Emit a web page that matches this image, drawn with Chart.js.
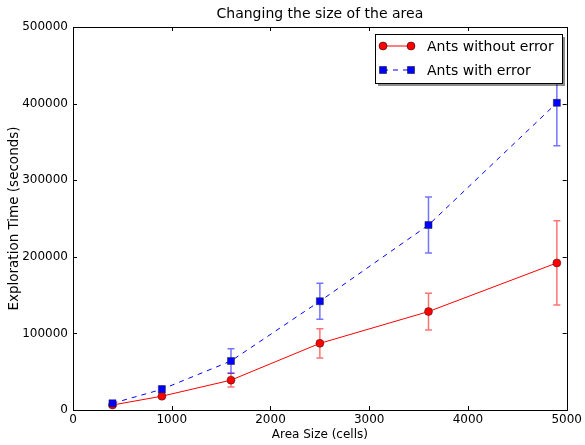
<!DOCTYPE html>
<html>
<head>
<meta charset="utf-8">
<script src="https://cdn.jsdelivr.net/npm/chart.js@4/dist/chart.umd.min.js"></script>
<style>
  html, body { margin: 0; padding: 0; background: #fff; }
  #wrap { width: 585px; height: 445px; }
</style>
</head>
<body>
<div id="wrap"><canvas id="chart" width="585" height="445"></canvas></div>
<script>
// Data
const areaSizes = [400, 900, 1600, 2500, 3600, 4900];
const timeNoError = [6500, 18000, 39000, 87000, 128500, 192000];
const errNoError = [1000, 2000, 9000, 19000, 24000, 55000];
const timeWithError = [8700, 27000, 64000, 142000, 241500, 401000];
const errWithError = [1500, 4500, 16000, 23500, 36500, 56000];
const xTicks = [0, 1000, 2000, 3000, 4000, 5000];
const yTicks = [0, 100000, 200000, 300000, 400000, 500000];

const FONT = 'DejaVu Sans';

function points(ys) {
    return areaSizes.map((x, i) => ({ x: x, y: ys[i] }));
}

// error bars go under the markers
const errorBars = {
    id: 'errorBars',
    beforeDatasetsDraw(chart) {
        const { ctx, scales: { x, y } } = chart;
        const sets = [
            { vals: timeNoError, errs: errNoError, color: 'rgba(255,0,0,0.55)' },
            { vals: timeWithError, errs: errWithError, color: 'rgba(0,0,255,0.55)' }
        ];
        ctx.save();
        ctx.lineWidth = 1.5;
        sets.forEach(s => {
            ctx.strokeStyle = s.color;
            areaSizes.forEach((a, i) => {
                const px = x.getPixelForValue(a);
                const top = y.getPixelForValue(s.vals[i] + s.errs[i]);
                const bot = y.getPixelForValue(s.vals[i] - s.errs[i]);
                ctx.beginPath();
                ctx.moveTo(px, top); ctx.lineTo(px, bot);
                ctx.moveTo(px - 3.5, top); ctx.lineTo(px + 3.5, top);
                ctx.moveTo(px - 3.5, bot); ctx.lineTo(px + 3.5, bot);
                ctx.stroke();
            });
        });
        ctx.restore();
    }
};

// matplotlib style frame, inward ticks, title and legend
const frameAndLegend = {
    id: 'frameAndLegend',
    afterDatasetsDraw(chart) {
        const { ctx, chartArea: ca, scales: { x, y } } = chart;
        ctx.save();
        ctx.strokeStyle = '#000';
        ctx.lineWidth = 1;
        ctx.strokeRect(Math.round(ca.left) + 0.5, Math.round(ca.top) + 0.5,
            Math.round(ca.right - ca.left), Math.round(ca.bottom - ca.top));
        ctx.beginPath();
        xTicks.forEach(v => {
            const px = Math.round(x.getPixelForValue(v)) + 0.5;
            ctx.moveTo(px, ca.bottom); ctx.lineTo(px, ca.bottom - 4);
            ctx.moveTo(px, ca.top); ctx.lineTo(px, ca.top + 4);
        });
        yTicks.forEach(v => {
            const py = Math.round(y.getPixelForValue(v)) + 0.5;
            ctx.moveTo(ca.left, py); ctx.lineTo(ca.left + 4, py);
            ctx.moveTo(ca.right, py); ctx.lineTo(ca.right - 4, py);
        });
        ctx.stroke();

        // title
        ctx.fillStyle = '#000';
        ctx.font = '14px "' + FONT + '"';
        ctx.textAlign = 'center';
        ctx.textBaseline = 'middle';
        ctx.fillText('Changing the size of the area', (ca.left + ca.right) / 2, 14);

        // legend
        const lx = 375, ly = 34, lw = 187, lh = 49;
        ctx.fillStyle = 'rgba(0,0,0,0.45)';
        ctx.fillRect(lx + 3, ly + 3, lw, lh);
        ctx.fillStyle = '#fff';
        ctx.fillRect(lx, ly, lw, lh);
        ctx.strokeStyle = '#000';
        ctx.strokeRect(lx + 0.5, ly + 0.5, lw, lh);

        const ds = chart.data.datasets;
        const rows = [46, 70];
        ds.forEach((d, i) => {
            const ry = rows[i];
            ctx.strokeStyle = d.borderColor;
            ctx.lineWidth = 1;
            ctx.setLineDash(d.borderDash || []);
            ctx.beginPath();
            ctx.moveTo(383, ry); ctx.lineTo(411, ry);
            ctx.stroke();
            ctx.setLineDash([]);
            [383, 411].forEach(mx => {
                ctx.fillStyle = d.pointBackgroundColor;
                ctx.strokeStyle = '#000';
                ctx.lineWidth = 0.5;
                ctx.beginPath();
                if (d.pointStyle === 'rect') {
                    ctx.rect(mx - 3.5, ry - 3.5, 7, 7);
                } else {
                    ctx.arc(mx, ry, 4, 0, Math.PI * 2);
                }
                ctx.fill();
                ctx.stroke();
            });
            ctx.fillStyle = '#000';
            ctx.font = '14px "' + FONT + '"';
            ctx.textAlign = 'left';
            ctx.textBaseline = 'middle';
            ctx.fillText(d.label, 427, ry + 1);
        });
        ctx.restore();
    }
};

new Chart(document.getElementById('chart'), {
    type: 'scatter',
    data: {
        datasets: [
            {
                label: 'Ants without error',
                data: points(timeNoError),
                showLine: true,
                borderColor: '#ff0000',
                borderWidth: 1,
                pointStyle: 'circle',
                pointRadius: 4,
                pointBackgroundColor: '#ff0000',
                pointBorderColor: '#222',
                pointBorderWidth: 0.5,
                order: 2
            },
            {
                label: 'Ants with error',
                data: points(timeWithError),
                showLine: true,
                borderColor: '#0000ff',
                borderWidth: 1,
                borderDash: [5, 5],
                pointStyle: 'rect',
                pointRadius: 5,
                pointBackgroundColor: '#0000ff',
                pointBorderColor: '#222',
                pointBorderWidth: 0.5,
                order: 1
            }
        ]
    },
    options: {
        responsive: false,
        animation: false,
        events: [],
        layout: { padding: { left: 0, right: 18, top: 27, bottom: 0 } },
        plugins: {
            legend: { display: false },
            title: { display: false },
            tooltip: { enabled: false }
        },
        scales: {
            x: {
                type: 'linear',
                min: 0,
                max: 5000,
                afterFit: s => { s.height = 35; },
                afterBuildTicks: s => { s.ticks = xTicks.map(v => ({ value: v })); },
                grid: { display: false, drawTicks: false },
                border: { display: false },
                ticks: {
                    color: '#000',
                    font: { family: FONT, size: 12 },
                    padding: 3,
                    maxRotation: 0,
                    callback: v => String(v)
                },
                title: {
                    display: true,
                    text: 'Area Size (cells)',
                    color: '#000',
                    font: { family: FONT, size: 12 },
                    padding: { top: 0, bottom: 3 }
                }
            },
            y: {
                type: 'linear',
                min: 0,
                max: 500000,
                afterFit: s => { s.width = 73; },
                afterBuildTicks: s => { s.ticks = yTicks.map(v => ({ value: v })); },
                grid: { display: false, drawTicks: false },
                border: { display: false },
                ticks: {
                    color: '#000',
                    font: { family: FONT, size: 12 },
                    padding: 5,
                    callback: v => String(v)
                },
                title: {
                    display: true,
                    text: 'Exploration Time (seconds)',
                    color: '#000',
                    font: { family: FONT, size: 13.5 },
                    padding: { top: 6, bottom: 0 }
                }
            }
        }
    },
    plugins: [errorBars, frameAndLegend]
});
</script>
</body>
</html>
